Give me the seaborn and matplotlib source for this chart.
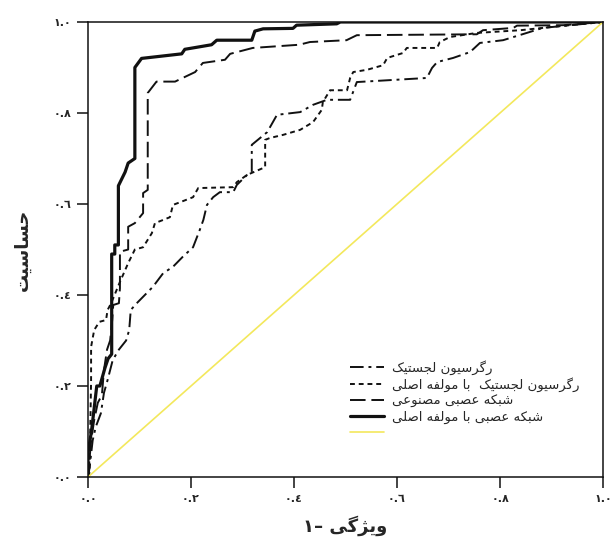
import matplotlib
matplotlib.use("Agg")
import matplotlib.pyplot as plt
import seaborn as sns

# ROC curves: x = 1 - specificity, y = sensitivity
fpr_lr = [0, .003, .009, .015, .025, .031, .038, .048, .060, .074, .080, .083, .093, .126, .146,
          .165, .184, .204, .217, .224, .231, .243, .256, .282, .289, .309, .318, .318, .348, .367,
          .412, .437, .464, .509, .522, .658, .668, .678, .709, .742, .761, .806, .852, .883, 1.0]
tpr_lr = [0, .02, .08, .11, .14, .185, .213, .257, .28, .30, .323, .367, .38, .418, .448,
          .462, .484, .505, .543, .565, .598, .615, .626, .626, .642, .664, .67, .73, .758, .796,
          .802, .818, .829, .829, .868, .877, .899, .912, .921, .934, .954, .96, .976, .987, 1.0]

fpr_lr_pca = [0, .003, .006, .006, .012, .022, .035, .038, .045, .061, .078, .091, .107, .124, .130,
              .146, .159, .165, .179, .204, .214, .282, .289, .309, .344, .344, .353, .379, .412, .437,
              .454, .456, .470, .503, .509, .515, .542, .573, .581, .612, .619, .678, .683, .703, .755,
              .840, .917, 1.0]
tpr_lr_pca = [0, .01, .213, .286, .323, .341, .345, .367, .382, .426, .47, .50, .505, .536, .558,
              .565, .571, .598, .604, .615, .635, .637, .648, .664, .681, .741, .745, .752, .763, .78,
              .807, .824, .85, .85, .877, .89, .895, .905, .921, .932, .943, .943, .956, .967, .976,
              .982, .991, 1.0]

fpr_ann = [0, .002, .006, .012, .019, .027, .031, .037, .043, .047, .049, .060, .062, .062, .078,
           .078, .091, .107, .107, .116, .116, .133, .169, .182, .208, .223, .266, .276, .320, .410,
           .431, .502, .522, .755, .767, .826, .833, .923, 1.0]
tpr_ann = [0, .026, .08, .125, .163, .18, .235, .28, .30, .345, .378, .382, .415, .495, .50,
           .55, .558, .58, .624, .631, .844, .869, .869, .876, .89, .91, .917, .93, .943, .95,
           .956, .96, .971, .973, .982, .987, .992, .993, 1.0]

fpr_ann_pca = [0, 0, .007, .017, .023, .033, .039, .046, .046, .052, .052, .059, .059, .072, .078,
               .091, .091, .104, .182, .188, .240, .250, .318, .324, .340, .398, .405, .483, .490, 1.0]
tpr_ann_pca = [0, .053, .103, .20, .20, .24, .26, .27, .49, .49, .51, .51, .64, .67, .69,
               .70, .90, .92, .93, .94, .95, .96, .96, .98, .985, .986, .993, .996, 1.0, 1.0]

ref_line = [0, 1]

tick_values = [0, .2, .4, .6, .8, 1.0]
tick_labels = ["٠.٠", "٠.٢", "٠.٤", "٠.٦", "٠.٨", "١.٠"]

series_labels = ["رگرسیون لجستیک",
                 "رگرسیون لجستیک  با مولفه اصلی",
                 "شبکه عصبی مصنوعی",
                 "شبکه عصبی با مولفه اصلی"]
x_title = "ویژگی –١"
y_title = "حساسیت"

# matplotlib has no Arabic shaping, so pick presentation forms by hand
# (isolated, final, initial, medial) and lay the string out right to left
FORMS = {
    "ا": "\ufe8d\ufe8e", "ب": "\ufe8f\ufe90\ufe91\ufe92", "ت": "\ufe95\ufe96\ufe97\ufe98",
    "ج": "\ufe9d\ufe9e\ufe9f\ufea0", "ح": "\ufea1\ufea2\ufea3\ufea4", "ر": "\ufead\ufeae",
    "ژ": "\ufb8a\ufb8b", "س": "\ufeb1\ufeb2\ufeb3\ufeb4", "ش": "\ufeb5\ufeb6\ufeb7\ufeb8",
    "ص": "\ufeb9\ufeba\ufebb\ufebc", "ع": "\ufec9\ufeca\ufecb\ufecc", "ف": "\ufed1\ufed2\ufed3\ufed4",
    "ک": "\ufb8e\ufb8f\ufb90\ufb91", "گ": "\ufb92\ufb93\ufb94\ufb95", "ل": "\ufedd\ufede\ufedf\ufee0",
    "م": "\ufee1\ufee2\ufee3\ufee4", "ن": "\ufee5\ufee6\ufee7\ufee8", "ه": "\ufee9\ufeea\ufeeb\ufeec",
    "و": "\ufeed\ufeee", "ی": "\ufbfc\ufbfd\ufbfe\ufbff",
}


def rtl(text):
    out = []
    for i, ch in enumerate(text):
        forms = FORMS.get(ch)
        if forms is None:
            out.append(ch)
            continue
        prev = FORMS.get(text[i - 1]) if i > 0 else None
        nxt = FORMS.get(text[i + 1]) if i + 1 < len(text) else None
        join_prev = prev is not None and len(prev) == 4
        join_next = nxt is not None and len(forms) == 4
        if join_prev and join_next:
            out.append(forms[3])
        elif join_prev:
            out.append(forms[1])
        elif join_next:
            out.append(forms[2])
        else:
            out.append(forms[0])
    return "".join(reversed(out))


sns.set_style("white")
plt.rcParams["font.family"] = ["DejaVu Sans"]

fig = plt.figure(figsize=(6.16, 5.40), dpi=100)
ax = fig.add_axes([88 / 616, 63 / 540, 515 / 616, 455 / 540])

ink = "#111111"
sns.lineplot(x=fpr_lr, y=tpr_lr, ax=ax, estimator=None, sort=False, color=ink,
             linewidth=1.4, linestyle=(0, (7, 2.5, 1.5, 2.5)))
sns.lineplot(x=fpr_lr_pca, y=tpr_lr_pca, ax=ax, estimator=None, sort=False, color=ink,
             linewidth=1.4, linestyle=(0, (2.5, 2)))
sns.lineplot(x=fpr_ann, y=tpr_ann, ax=ax, estimator=None, sort=False, color=ink,
             linewidth=1.4, linestyle=(0, (8, 3)))
sns.lineplot(x=fpr_ann_pca, y=tpr_ann_pca, ax=ax, estimator=None, sort=False, color=ink,
             linewidth=2.3)
sns.lineplot(x=ref_line, y=ref_line, ax=ax, estimator=None, sort=False, color="#f3e85c",
             linewidth=1.2)

ax.set_xlim(0, 1)
ax.set_ylim(0, 1)
ax.margins(0)
ax.set_xticks(tick_values)
ax.set_yticks(tick_values)
ax.set_xticklabels(tick_labels, fontsize=8, fontweight="bold")
ax.set_yticklabels(tick_labels, fontsize=8, fontweight="bold")
ax.tick_params(axis="both", direction="out", length=8, width=1.1, color=ink, pad=4,
               bottom=True, left=True)
for side in ax.spines.values():
    side.set_visible(True)
    side.set_color(ink)
    side.set_linewidth(1.1)

ax.set_xlabel(rtl(x_title), fontsize=13, fontweight="bold")
ax.set_ylabel(rtl(y_title), fontsize=13, fontweight="bold")
ax.xaxis.set_label_coords(0.5, -0.085)
ax.yaxis.set_label_coords(-0.11, 0.5)

handles = ax.get_lines()
labels = [rtl(s) for s in series_labels] + [""]
ax.legend(handles, labels, loc="upper left", bbox_to_anchor=(0.509, 0.257), frameon=False,
          fontsize=9.5, handlelength=2.6, handletextpad=0.55, labelspacing=0.2,
          borderpad=0, borderaxespad=0)

fig.savefig("out.png", dpi=100)
